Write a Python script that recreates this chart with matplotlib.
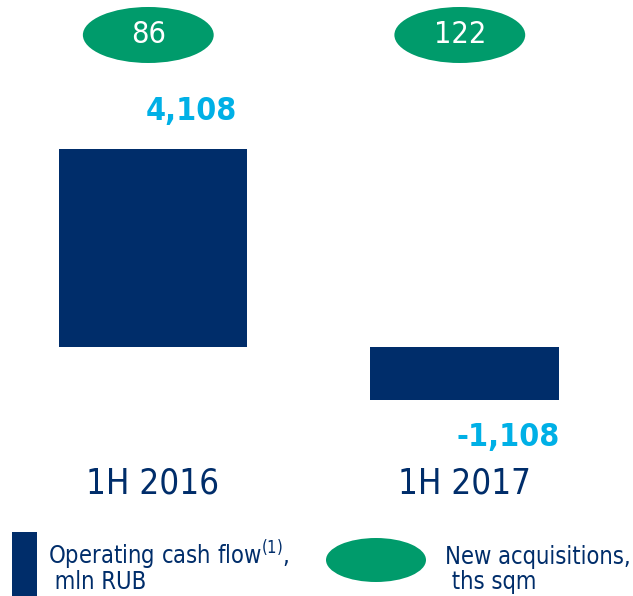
import matplotlib
matplotlib.use('Agg')
import matplotlib.pyplot as plt
from matplotlib.patches import Ellipse, Rectangle

categories = ['1H 2016', '1H 2017']
cash_flow = [4108, -1108]
cash_labels = ['4,108', '-1,108']
acquisitions = [86, 122]

NAVY = '#002d6a'
GREEN = '#009b6b'
CYAN = '#00b0e6'
FONT = 'DejaVu Sans'
STRETCH = 'condensed'

W, H = 633, 596
fig = plt.figure(figsize=(W / 100, H / 100), dpi=100)
ax = fig.add_axes([0, 0, 1, 1])
ax.set_axis_off()

# x: one unit = 311.5 px between categories, y: 1 px = 20.75 units
ax.set_xlim(-0.491, 1.541)
ax.set_ylim(-5166, 7200)

x = list(range(len(categories)))
bar_w = 0.604
ax.bar(x, cash_flow, width=bar_w, color=NAVY)

for xi, v, lab in zip(x, cash_flow, cash_labels):
    dy = 38 if v > 0 else -37
    dx = -10 if v > 0 else 1
    ax.annotate(lab, (xi + bar_w / 2, v), xytext=(dx * 0.72, dy * 0.72),
                textcoords='offset points', ha='right', va='center',
                fontsize=23, fontweight='bold', color=CYAN, family=FONT,
                fontstretch=STRETCH)

# green ovals with acquisitions on top
for xi, a in zip(x, acquisitions):
    ax.add_patch(Ellipse((xi - 0.015, 6474), 0.42, 1162, color=GREEN, lw=0))
    ax.text(xi - 0.015, 6474, str(a), ha='center', va='center', fontsize=22,
            color='white', family=FONT, fontstretch=STRETCH)

for xi, c in zip(x, categories):
    ax.text(xi, 1 - 483 / H, c, transform=ax.get_xaxis_transform(),
            ha='center', va='center', fontsize=25, color=NAVY, family=FONT,
            fontstretch=STRETCH)

# legend
def fx(px):
    return px / W

def fy(py):
    return 1 - py / H

fig.add_artist(Rectangle((fx(12), fy(596)), fx(37) - fx(12), fy(532) - fy(596),
                         transform=fig.transFigure, color=NAVY, lw=0))
fig.add_artist(Ellipse((fx(376), fy(560)), 100 / W, 44 / H,
                       transform=fig.transFigure, color=GREEN, lw=0))
leg_kw = dict(ha='left', va='baseline', fontsize=17, color=NAVY,
              family=FONT, fontstretch=STRETCH)
fig.text(fx(48), fy(564), 'Operating cash flow$^{\\mathregular{(1)}}$,', **leg_kw)
fig.text(fx(48), fy(589), ' mln RUB', **leg_kw)
fig.text(fx(445), fy(564), 'New acquisitions,', **leg_kw)
fig.text(fx(445), fy(589), ' ths sqm', **leg_kw)

fig.savefig('out.png', dpi=100)
